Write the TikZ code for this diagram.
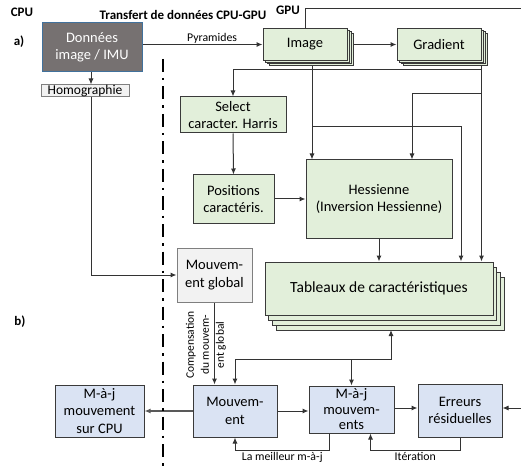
\documentclass[tikz,border=0pt]{standalone}
\usepackage{fontspec}
\setmainfont{Carlito}
\usepackage{xcolor}
\usetikzlibrary{arrows.meta,backgrounds}

\definecolor{gfill}{HTML}{E2EFDA}
\definecolor{bfill}{HTML}{DAE3F3}
\definecolor{cfill}{HTML}{F2F2F2}
\definecolor{dfill}{HTML}{767171}
\definecolor{dline}{HTML}{41719C}
\definecolor{bord}{HTML}{3A3A3A}
\definecolor{lgray}{HTML}{7F7F7F}

\begin{document}
\begin{tikzpicture}[x=1pt, y=-1pt,
    box/.style={draw=bord, line width=1pt, inner sep=0pt, align=center,
                font=\fontsize{14.5}{17.5}\selectfont},
    gbox/.style={box, fill=gfill},
    bbox/.style={box, fill=bfill},
    cbox/.style={box, fill=cfill, draw=lgray},
    layer/.style={draw=bord, line width=1pt, fill=gfill},
    arr/.style={line width=1pt, draw=black!80, -{Latex[length=6pt,width=5pt]}},
    lnk/.style={line width=1pt, draw=black!80},
    lbl/.style={font=\fontsize{11.8}{14}\selectfont, inner sep=1pt},
    hdr/.style={font=\fontsize{13}{15}\selectfont\bfseries, inner sep=0pt}
  ]
  \useasboundingbox (0,0) rectangle (521,470);

  % titres
  \node[hdr] (tcpu) at (22,12) {CPU};
  \node[hdr] (ttr) at (183,15) {Transfert de données CPU-GPU};
  \node[hdr] (tgpu) at (288,10) {GPU};
  \node[hdr] (ta) at (19,42) {a)};
  \node[hdr] (tb) at (20,322) {b)};

  % limite CPU / GPU
  \draw[line width=2.5pt, dash pattern=on 13pt off 6pt on 2.5pt off 6pt]
    (163,59) -- (163,470);

  % piles
  \foreach \k in {3,2,1} {
    \draw[layer] (263+2.2*\k,29+1.4*\k) rectangle +(84,32);
    \draw[layer] (397+2.2*\k,29+1.4*\k) rectangle +(84,32);
    \draw[layer] (265+3.7*\k,262+5*\k) rectangle +(228,53);
  }

  \node[box, fill=dfill, draw=dline, text=white, minimum width=100pt, minimum height=49pt]
    (don) at (92,47.5) {Données\\image / IMU};
  \node[cbox, minimum width=88pt, minimum height=12pt, font=\fontsize{13.5}{16}\selectfont]
    (homo) at (85,91) {Homographie};
  \node[gbox, minimum width=84pt, minimum height=32pt] (img) at (305,44.5) {Image};
  \node[gbox, minimum width=84pt, minimum height=32pt] (grad) at (439,44.5) {Gradient};
  \node[gbox, minimum width=106pt, minimum height=36pt] (sel) at (233,115) {Select\\caracter. Harris};
  \node[gbox, minimum width=81pt, minimum height=48pt] (pos) at (233.5,199) {Positions\\caractéris.};
  \node[gbox, minimum width=146pt, minimum height=78pt] (hes) at (379,199)
    {Hessienne\\(Inversion Hessienne)};
  \node[gbox, minimum width=228pt, minimum height=53pt, font=\fontsize{15.5}{18}\selectfont]
    (tab) at (379,288.5) {Tableaux de caractéristiques};
  \node[cbox, minimum width=75pt, minimum height=54pt] (mg) at (214.5,275) {Mouvem-\\ent global};
  \node[bbox, minimum width=84pt, minimum height=52pt] (mv) at (235,411) {Mouvem-\\ent};
  \node[bbox, minimum width=89pt, minimum height=52pt] (cpu) at (99.5,411)
    {M-à-j\\mouvement\\sur CPU};
  \node[bbox, minimum width=85pt, minimum height=47pt, font=\fontsize{14.5}{15.5}\selectfont]
    (maj) at (351.5,409.5) {M-à-j\\mouvem-\\ents};
  \node[bbox, minimum width=84pt, minimum height=53pt] (err) at (460,410.5) {Erreurs\\résiduelles};

  \coordinate (gpuout) at (521,9);
  \coordinate (errin) at (521,408);

  \begin{scope}[on background layer]
    \draw[arr] (img.west -| don.east) -- (img.west)
      node[lbl, pos=0.58, above] {Pyramides};
    \draw[arr] (img.east) -- (grad.west);
    \draw[lnk] (img.north) |- (gpuout);
    % depuis le gradient
    \draw[arr] (grad.south east) -- (grad.south east |- tab.north);
    \draw[arr] (grad.south east |- 0,70) -| (sel.north);
    \draw[arr] (grad.south east |- 0,94) -| ([xshift=33pt]hes.north);
    % depuis l'image
    \draw[arr] ([xshift=7pt]img.south) -- ([xshift=7pt]img.south |- hes.north);
    \draw[arr] ([xshift=7pt]img.south |- 0,127) -| ([xshift=82pt]tab.north);
    \draw[arr] (hes.south) -- (tab.north);
    \draw[arr] (sel.south) -- (pos.north);
    \draw[arr] (pos.east) -- (pos.east -| hes.west);
    % partie CPU
    \draw[arr] (don.south -| 91,0) -- (homo.north -| 91,0);
    \draw[arr] (homo.south -| 91,0) |- (mg.west);
    \draw[arr] (mg.south) -- (mg.south |- mv.north);
    \draw[line width=2pt, draw=black!65, -{Latex[length=6pt,width=5pt]}] (mv.west) -- (cpu.east);
    \draw[arr] (mv.east) -- (mv.east -| maj.west);
    \draw[arr] (maj.east |- 0,408) -- (err.west |- 0,408);
    \draw[arr] (errin) -- (err.east |- errin);
    \draw[arr] (err.south) -- ++(0,13) -| ([xshift=19pt]maj.south)
      node[lbl, pos=0.25, below] {Itération};
    \draw[arr] ([xshift=-22pt]maj.south) -- ++(0,17) -| (mv.south)
      node[lbl, pos=0.25, below] {La meilleur m-à-j};
    \draw[line width=1pt, draw=black!80, {Latex[length=6pt,width=5pt]}-{Latex[length=6pt,width=5pt]}]
      (391,330) -- (391,359) -| (mv.north);
    \draw[arr] (maj.north |- 0,359) -- (maj.north);
  \end{scope}

  \node[lbl, rotate=90, align=center, font=\fontsize{11.5}{15}\selectfont] (comp) at (206,345)
    {Compensation\\du mouvem-\\ent global};
\end{tikzpicture}
\end{document}
